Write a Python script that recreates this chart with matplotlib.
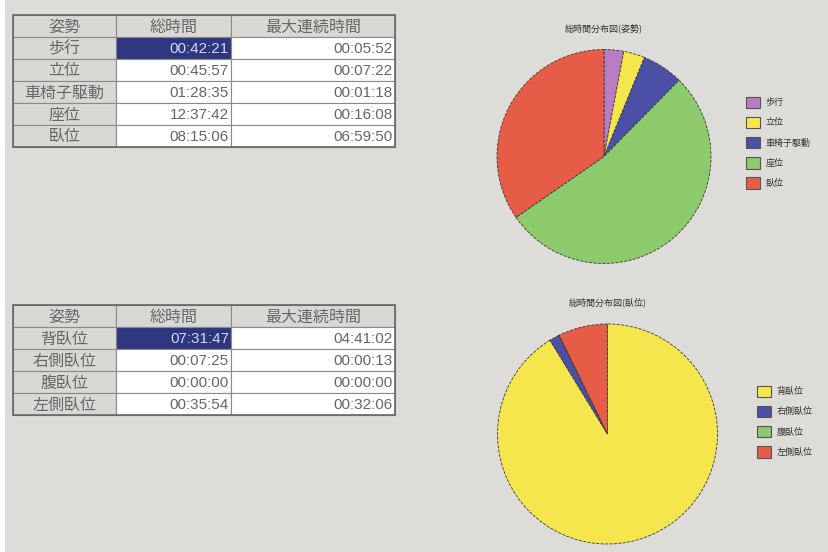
import matplotlib.pyplot as plt
from matplotlib.patches import Rectangle

plt.rcParams['font.family'] = ['Noto Sans CJK JP', 'DejaVu Sans']

# top table / pie: posture totals
posture_labels = ["歩行", "立位", "車椅子駆動", "座位", "臥位"]
posture_total = ["00:42:21", "00:45:57", "01:28:35", "12:37:42", "08:15:06"]
posture_max = ["00:05:52", "00:07:22", "00:01:18", "00:16:08", "06:59:50"]

# bottom table / pie: lying positions
lying_labels = ["背臥位", "右側臥位", "腹臥位", "左側臥位"]
lying_total = ["07:31:47", "00:07:25", "00:00:00", "00:35:54"]
lying_max = ["04:41:02", "00:00:13", "00:00:00", "00:32:06"]

headers = ["姿勢", "総時間", "最大連続時間"]
posture_colors = ["#b97cc2", "#f6e64e", "#4b50a6", "#8dca6b", "#e65c46"]
lying_colors = ["#f6e64e", "#4b50a6", "#8dca6b", "#e65c46"]

BG = "#dddcd8"
W, H = 829, 552


def to_sec(t):
    h, m, s = [int(v) for v in t.split(":")]
    return h * 3600 + m * 60 + s


def draw_table(ax, top, labels, totals, maxes):
    cols = [13, 116, 231, 395]
    rh = 22
    rows = [headers] + [[l, t, m] for l, t, m in zip(labels, totals, maxes)]
    for i, row in enumerate(rows):
        y = top + i * rh
        for j in range(3):
            x0, x1 = cols[j], cols[j + 1]
            if i == 0 or j == 0:
                fc = "#d9d8d4"
            elif i == 1 and j == 1:
                fc = "#2f3680"
            else:
                fc = "white"
            ax.add_patch(Rectangle((x0, y), x1 - x0, rh, facecolor=fc,
                                   edgecolor="#8a8a8a", linewidth=0.8))
            txt = row[j]
            color = "#d6d8ee" if (i == 1 and j == 1) else "#666666"
            if i == 0 or j == 0:
                ax.text((x0 + x1) / 2, y + rh / 2 + 1, txt, ha="center",
                        va="center", fontsize=11.5, color=color)
            else:
                ax.text(x1 - 2, y + rh / 2 + 1, txt, ha="right", va="center",
                        fontsize=11, color=color, family="Liberation Sans")
    n = len(rows)
    ax.add_patch(Rectangle((cols[0], top), cols[-1] - cols[0], n * rh,
                           facecolor="none", edgecolor="#666666", linewidth=1.2))


fig = plt.figure(figsize=(W / 100, H / 100), dpi=100, facecolor=BG)

base = fig.add_axes([0, 0, 1, 1])
base.set_xlim(0, W)
base.set_ylim(H, 0)
base.axis("off")
base.add_patch(Rectangle((0, 0), 5, H, facecolor="white", edgecolor="none"))

draw_table(base, 15, posture_labels, posture_total, posture_max)
draw_table(base, 305, lying_labels, lying_total, lying_max)


def draw_pie(cx, cy, r, values, colors, labels, title, ty, leg_x, leg_y):
    ax = fig.add_axes([(cx - r) / W, 1 - (cy + r) / H, 2 * r / W, 2 * r / H])
    wedges, _ = ax.pie(values, colors=colors, startangle=90, counterclock=False,
                       wedgeprops=dict(edgecolor="#3a3a3a", linestyle="--",
                                       linewidth=0.6))
    ax.set_xlim(-1, 1)
    ax.set_ylim(-1, 1)
    ax.set_aspect("equal")
    fig.text(cx / W, 1 - ty / H, title, ha="center", va="center",
             fontsize=6.5, color="#333333")
    leg = fig.legend(wedges, labels, loc="upper left",
                     bbox_to_anchor=(leg_x / W, 1 - leg_y / H), frameon=False,
                     fontsize=6.5, handlelength=1.6, handleheight=1.6,
                     labelspacing=0.95, handletextpad=0.6, borderpad=0,
                     labelcolor="#333333")
    for h in leg.legend_handles:
        h.set_linestyle("-")
        h.set_edgecolor("#555555")
        h.set_linewidth(0.8)


draw_pie(604, 156.5, 107, [to_sec(t) for t in posture_total], posture_colors,
         posture_labels, "総時間分布図(姿勢)", 28, 741, 92)
draw_pie(607.5, 434, 110, [to_sec(t) for t in lying_total], lying_colors,
         lying_labels, "総時間分布図(臥位)", 302, 752, 381)

fig.savefig("out.png", dpi=100, facecolor=BG)
